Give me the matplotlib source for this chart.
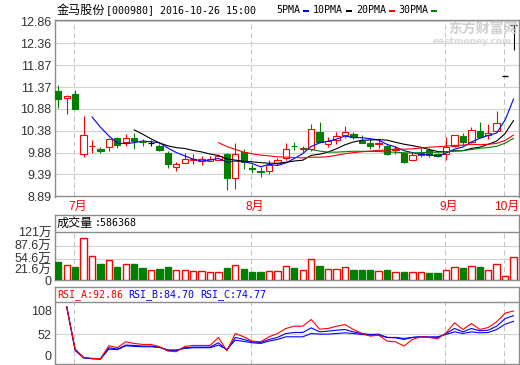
import matplotlib
matplotlib.use("Agg")
import matplotlib.pyplot as plt
from matplotlib.patches import Rectangle
from matplotlib.transforms import ScaledTranslation
import numpy as np
import pandas as pd

plt.rcParams['font.family'] = ['Noto Sans CJK SC', 'DejaVu Sans']

# ---- data (daily bars, 2016-06-29 .. 2016-10-26) ----
opens = [11.29, 11.11, 11.21, 9.85, 10.03, 9.96, 10.00, 10.20, 10.11, 10.22,
         10.12, 10.10, 10.04, 9.88, 9.55, 9.64, 9.72, 9.69, 9.69, 9.72,
         9.85, 9.31, 9.90, 9.53, 9.46, 9.46, 9.64, 9.75, 10.03, 9.96,
         9.96, 10.34, 10.08, 10.17, 10.28, 10.30, 10.15, 10.10, 10.07, 10.03,
         9.94, 9.88, 9.71, 9.83, 9.94, 9.85, 9.85, 10.04, 10.26, 10.12,
         10.37, 10.28, 10.36, 11.61, 12.77]
highs = [11.42, 11.18, 11.30, 10.70, 10.17, 10.01, 10.21, 10.24, 10.31, 10.33,
         10.19, 10.16, 10.08, 9.91, 9.67, 9.86, 9.84, 9.80, 9.80, 9.84,
         9.88, 10.10, 9.95, 9.61, 9.55, 9.71, 9.76, 10.09, 10.11, 10.04,
         10.54, 10.58, 10.24, 10.34, 10.49, 10.34, 10.27, 10.18, 10.18, 10.08,
         10.02, 9.89, 9.90, 9.98, 9.98, 9.88, 10.24, 10.28, 10.32, 10.45,
         10.58, 10.54, 10.83, 11.61, 12.77]
lows = [10.90, 10.76, 10.86, 9.79, 9.88, 9.88, 9.92, 9.99, 10.04, 9.95,
        10.03, 10.02, 9.92, 9.52, 9.46, 9.64, 9.62, 9.60, 9.69, 9.71,
        9.02, 9.06, 9.51, 9.42, 9.33, 9.39, 9.60, 9.71, 9.94, 9.89,
        9.92, 10.11, 10.00, 10.08, 10.21, 10.18, 10.09, 9.95, 9.99, 9.83,
        9.85, 9.65, 9.70, 9.77, 9.79, 9.77, 9.72, 10.01, 10.05, 10.09,
        10.23, 10.18, 10.36, 11.61, 12.21]
closes = [11.09, 11.17, 10.87, 10.28, 10.04, 9.92, 10.18, 10.06, 10.21, 10.15,
          10.11, 10.10, 9.94, 9.62, 9.63, 9.73, 9.73, 9.73, 9.73, 9.81,
          9.31, 9.85, 9.67, 9.51, 9.44, 9.60, 9.71, 9.96, 10.02, 9.99,
          10.41, 10.12, 10.15, 10.26, 10.34, 10.24, 10.10, 10.04, 10.10, 9.85,
          9.95, 9.67, 9.83, 9.88, 9.82, 9.80, 10.01, 10.27, 10.13, 10.39,
          10.23, 10.32, 10.55, 11.61, 12.77]
# volume, 10k lots
volume = [46, 37.8, 33.5, 107.6, 60.5, 40.3, 52, 32.7, 42, 40.3,
          30.2, 25.2, 27.7, 32.7, 25.2, 26.9, 22.7, 22.7, 20.2, 20.2,
          30.2, 37.8, 27.7, 21, 21, 22.7, 22.7, 35.3, 31, 25.2,
          52.9, 35.3, 27.7, 29.4, 32.7, 25.2, 25.2, 25.2, 22.7, 25.2,
          20.2, 20.2, 20.2, 20.2, 17.6, 17.6, 26.9, 34.5, 30.2, 37,
          32.7, 25.2, 42, 11.8, 58.6]
nan = np.nan
rsi_a = [nan, 100, 26.1, 11.6, 9.9, 9.3, 32.0, 28.5, 38.9, 36.0,
         34.3, 34.3, 30.2, 22.6, 21.5, 30.8, 32.5, 32.5, 32.5, 46.5,
         23.2, 53.4, 47.6, 40.1, 38.9, 47.6, 53.4, 62.2, 66.2, 66.2,
         77.9, 61.0, 62.2, 66.2, 69.2, 60.4, 53.4, 48.8, 50.5, 40.1,
         38.9, 31.4, 43.0, 47.6, 46.5, 44.2, 54.6, 72.0, 60.4, 70.9,
         60.4, 63.9, 73.8, 89.0, 92.86]
rsi_b = [nan, 100, 25.0, 11.0, 9.3, 8.7, 28.5, 26.1, 33.1, 32.5,
         31.4, 31.4, 29.6, 24.4, 23.8, 28.5, 29.6, 29.6, 29.6, 37.2,
         24.4, 46.5, 43.0, 38.9, 37.7, 43.0, 46.5, 53.4, 55.2, 55.2,
         63.3, 56.3, 57.5, 59.2, 60.4, 56.3, 53.4, 51.7, 52.3, 46.5,
         45.9, 43.0, 46.5, 47.6, 46.5, 45.9, 53.4, 62.2, 56.3, 62.2,
         58.1, 59.2, 66.2, 79.5, 84.70]
rsi_c = [nan, 100, 23.8, 10.5, 9.3, 8.7, 26.1, 25.0, 32.0, 30.8,
         30.2, 30.2, 29.0, 24.4, 24.4, 27.3, 28.5, 28.5, 28.5, 33.1,
         25.6, 41.8, 39.5, 37.2, 36.0, 40.1, 43.0, 47.6, 47.6, 47.6,
         53.4, 52.3, 52.3, 53.4, 54.6, 53.4, 51.7, 50.5, 50.5, 46.5,
         46.5, 44.8, 46.5, 47.6, 47.6, 47.6, 51.7, 56.3, 53.4, 56.3,
         54.6, 55.2, 60.4, 69.7, 74.77]

month_start = [2, 23, 46, 53]
month_labels = ["7月", "8月", "9月", "10月"]
price_ticks = [8.89, 9.39, 9.88, 10.38, 10.88, 11.37, 11.87, 12.36, 12.86]
vol_ticks = [0, 21.6, 54.6, 87.6, 121]
vol_labels = ["0", "21.6万", "54.6万", "87.6万", "121万"]
rsi_ticks = [0, 52, 108]
ma_periods = [5, 10, 20, 30]
ma_colors = ["#0000ff", "black", "#ff0000", "#008000"]

RED, GREEN, BORDER, GRID, DASH, TXT = "#ff0000", "#008000", "#8c8c8c", "#d2d2d2", "#c4c4c4", "#333333"
W, H = 520, 365
NUM = ['Liberation Sans', 'Noto Sans CJK SC']
MONO = 'DejaVu Sans Mono'
X0, X1 = -0.39, 54.65
BW = 0.75


def box(top, bottom):
    return [55 / W, 1 - bottom / H, 464 / W, (bottom - top) / H]


def style(ax):
    for s in ax.spines.values():
        s.set_color(BORDER); s.set_linewidth(1)
    ax.set_xlim(X0, X1); ax.set_xticks([])
    ax.tick_params(axis='y', length=0, pad=2.5, labelsize=9, labelcolor=TXT)
    ax.set_facecolor("white")


def nudge(label, px):
    # shift a tick label vertically by px pixels (positive = up)
    label.set_transform(label.get_transform() + ScaledTranslation(0, px / 100, fig.dpi_scale_trans))


def bar_color(i):
    if closes[i] > opens[i]:
        return RED, "white"
    if closes[i] < opens[i]:
        return GREEN, GREEN
    return "black", None


fig = plt.figure(figsize=(W / 100, H / 100), dpi=100, facecolor="white")

# ---- price panel ----
ax = fig.add_axes(box(20, 196.5))
style(ax)
ax.set_ylim(8.881, 12.894)
ax.set_yticks(price_ticks, [f"{t:.2f}" for t in price_ticks], fontfamily=NUM)
ax.grid(axis='y', color=GRID, lw=0.8, zorder=0)
for m in month_start:
    ax.axvline(m - 0.1, color=DASH, lw=0.75, ls=(0, (5, 3)), zorder=1)
for k, (lab, m) in enumerate(zip(month_labels, month_start)):
    dx = -4 if k < len(month_start) - 1 else -7   # keep the last one inside the frame
    ax.annotate(lab, xy=(m - 0.1, 0), xycoords=('data', 'axes fraction'),
                xytext=(dx, -7.6), textcoords='offset points', ha='left', va='center',
                color=RED, fontsize=8.6, fontfamily=NUM, annotation_clip=False)
for i in range(len(closes)):
    col, face = bar_color(i)
    ax.vlines(i, lows[i], highs[i], color=col, lw=0.8, zorder=3)
    if face is None:
        ax.hlines(opens[i], i - BW / 2, i + BW / 2, color=col, lw=0.9, zorder=4)
    else:
        lo, hi = min(opens[i], closes[i]), max(opens[i], closes[i])
        ax.add_patch(Rectangle((i - BW / 2, lo), BW, hi - lo, fc=face, ec=col, lw=0.8, zorder=4))
cs = pd.Series(closes)
for n, col in zip(ma_periods, ma_colors):
    ax.plot(range(len(closes)), cs.rolling(n).mean(), color=col, lw=0.8, zorder=5)

# watermark
fig.text(483 / W, 1 - 29 / H, "东方财富网", ha='center', va='center', fontsize=10,
         fontweight='bold', color="#d0d0d0", zorder=0)
fig.text(472 / W, 1 - 41.5 / H, "eastmoney.com", ha='center', va='center', fontsize=6.5,
         fontfamily='DejaVu Sans', fontweight='bold', color="#d8d8d8", zorder=0)

# ---- header ----
fig.text(57 / W, 1 - 10 / H, "金马股份", va='center', fontsize=8.7, color="black")
fig.text(106 / W, 1 - 10 / H, "[000980] 2016-10-26 15:00", va='center', fontsize=7.2,
         fontfamily=MONO, color="black")
leg_x = [276, 313, 356, 398]
for n, col, x in zip(ma_periods, ma_colors, leg_x):
    label = f"{n}PMA"
    fig.text(x / W, 1 - 10 / H, label, va='center', fontsize=7.2, fontfamily=MONO, color="black")
    bx = x + 6 * len(label) + 3
    fig.add_artist(Rectangle((bx / W, 1 - 11.8 / H), 6 / W, 2.3 / H, transform=fig.transFigure,
                             fc=col, ec='none'))

# ---- volume panel ----
av = fig.add_axes(box(215, 280.3))
style(av)
av.set_ylim(0, 164.6)
av.set_yticks(vol_ticks, vol_labels, fontfamily=NUM)
nudge(av.get_yticklabels()[1], 2.5)
for t in (54.6, 87.6):
    av.axhline(t, color=GRID, lw=0.8, zorder=0)
av.axhline(121, color=BORDER, lw=1, zorder=2)
av.vlines([m - 0.1 for m in month_start], 0, 121, color=DASH, lw=0.75, ls=(0, (5, 3)), zorder=1)
for i, v in enumerate(volume):
    col, face = bar_color(i)
    if face != GREEN:
        col, face = RED, "white"
    av.add_patch(Rectangle((i - BW / 2, 0), BW, v, fc=face, ec=col, lw=1.0, zorder=3))
fig.text(57 / W, 1 - 223.5 / H, "成交量", va='center', fontsize=8.7, color="black")
fig.text(95 / W, 1 - 223.5 / H, ":586368", va='center', fontsize=7.2, fontfamily=MONO, color="black")

# ---- RSI panel ----
ar = fig.add_axes(box(287.3, 364))
style(ar)
ar.set_ylim(0, 134.3)
ar.set_yticks(rsi_ticks, [str(t) for t in rsi_ticks], fontfamily=NUM)
labs = ar.get_yticklabels()
nudge(labs[0], 9)
nudge(labs[2], -8)
ar.axhline(52, color=GRID, lw=0.8, zorder=0)
ar.axhline(108, color=BORDER, lw=1, zorder=2)
ar.vlines([m - 0.1 for m in month_start], 0, 108, color=DASH, lw=0.75, ls=(0, (5, 3)), zorder=1)
xs = range(len(closes))
ar.plot(xs, rsi_c, color="#0000ff", lw=0.8, zorder=3)
ar.plot(xs, rsi_b, color="#0000ff", lw=0.8, zorder=3)
ar.plot(xs, rsi_a, color=RED, lw=0.8, zorder=4)
for txt, x, col in [("RSI_A:92.86", 57, RED), ("RSI_B:84.70", 128, "#0000ff"),
                    ("RSI_C:74.77", 200, "#0000ff")]:
    fig.text(x / W, 1 - 294.3 / H, txt, va='center', fontsize=7.2, fontfamily=MONO, color=col)

fig.savefig("out.png", dpi=100, facecolor="white")
